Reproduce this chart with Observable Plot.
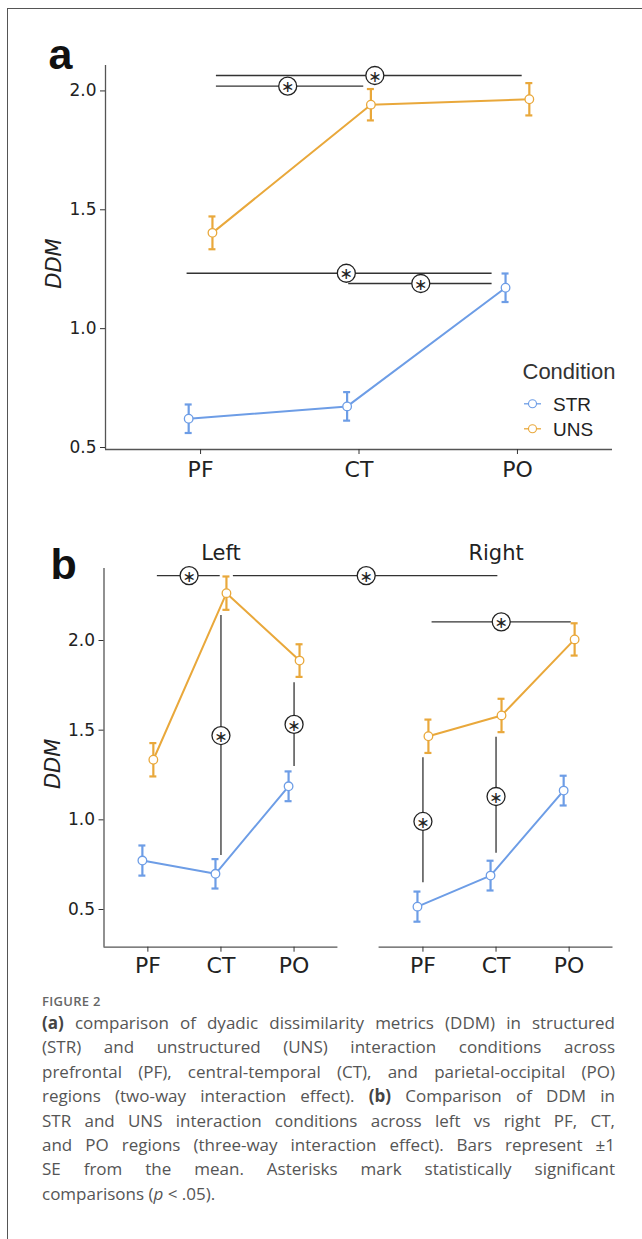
<!DOCTYPE html>
<html><head><meta charset="utf-8">
<script src="https://cdn.jsdelivr.net/npm/d3@7"></script>
<script src="https://cdn.jsdelivr.net/npm/@observablehq/plot@0.6"></script>
<style>
body{margin:0;background:#fff;}
#page{position:relative;width:642px;height:1239px;overflow:hidden;background:#fff;}
#frame{position:absolute;left:7px;top:8px;width:700px;height:1300px;border-left:1px solid #555;border-top:1px solid #555;}
#pa{position:absolute;left:0;top:0;}
#pb{position:absolute;left:0;top:500px;}
#overlay{position:absolute;left:0;top:0;pointer-events:none;}
</style></head>
<body>
<div id="page">
  <div id="frame"></div>
  <div id="pa"></div>
  <div id="pb"></div>
  <svg id="overlay" width="642" height="1239"></svg>
</div>
<script>
// ---------- data ----------
const regions = ["PF", "CT", "PO"];
const conditions = ["STR", "UNS"];
const hemispheres = ["Left", "Right"];
const colors = ["#6d9de6", "#e9a83b"];

// panel a: mean DDM and SE per region
const aSTR = [0.621, 0.673, 1.172];
const aSTRse = [0.060, 0.060, 0.060];
const aUNS = [1.403, 1.942, 1.965];
const aUNSse = [0.069, 0.066, 0.068];

// panel b: mean DDM and SE per hemisphere and region
const bLeftSTR = [0.773, 0.699, 1.187];
const bLeftSTRse = [0.084, 0.082, 0.083];
const bLeftUNS = [1.335, 2.264, 1.888];
const bLeftUNSse = [0.093, 0.093, 0.091];
const bRightSTR = [0.516, 0.689, 1.163];
const bRightSTRse = [0.084, 0.083, 0.083];
const bRightUNS = [1.466, 1.582, 2.006];
const bRightUNSse = [0.093, 0.093, 0.090];

// significance annotations, x in region units (1 = PF, 2 = CT, 3 = PO)
const aSigY = [2.065, 2.020, 1.233, 1.190];
const aSigX1 = [1.10, 1.10, 0.915, 1.935];
const aSigX2 = [3.03, 2.03, 2.84, 2.84];
const aSigStar = [2.10, 1.55, 1.92, 2.39];

const bSigHY = [2.362, 2.362, 2.104];
const bSigHHemi1 = ["Left", "Left", "Right"];
const bSigHX1 = [1.13, 2.17, 1.125];
const bSigHHemi2 = ["Left", "Right", "Right"];
const bSigHX2 = [1.99, 2.025, 3.029];
const bSigHStarHemi = ["Left", "Left", "Right"];
const bSigHStarX = [1.564, 3.987, 2.071];
const bSigHStarY = [2.362, 2.362, 2.104];

const bSigVHemi = ["Left", "Left", "Right", "Right"];
const bSigVX = [2.0, 3.0, 1.0, 2.0];
const bSigVY1 = [2.139, 1.764, 1.346, 1.461];
const bSigVY2 = [0.801, 1.297, 0.649, 0.814];
const bSigVStarY = [1.470, 1.532, 0.991, 1.130];

const caption = [
  [["(a)", "b"], [" comparison of dyadic dissimilarity metrics (DDM) in structured"]],
  [["(STR) and unstructured (UNS) interaction conditions across"]],
  [["prefrontal (PF), central-temporal (CT), and parietal-occipital (PO)"]],
  [["regions (two-way interaction effect). "], ["(b)", "b"], [" Comparison of DDM in"]],
  [["STR and UNS interaction conditions across left vs right PF, CT,"]],
  [["and PO regions (three-way interaction effect). Bars represent \u00b11"]],
  [["SE from the mean. Asterisks mark statistically significant"]],
  [["comparisons ("], ["p", "i"], [" < .05)."]]
];

// ---------- layout helpers ----------
const dodge = 0.075;
const hemiShift = {Left: 0, Right: 3.763};
const colorScale = {domain: conditions, range: colors};
const star = "\u2217";

function seriesMarks(rows) {
  const caps = rows.flatMap(d => [{...d, yc: d.y - d.se}, {...d, yc: d.y + d.se}]);
  return [
    Plot.line(rows, {x: "x", y: "y", z: d => d.condition + (d.hemi || ""), stroke: "condition", strokeWidth: 2}),
    Plot.ruleX(rows, {x: "x", y1: d => d.y - d.se, y2: d => d.y + d.se, stroke: "condition", strokeWidth: 2.2}),
    Plot.ruleY(caps, {x1: "x", x2: "x", y: "yc", stroke: "condition", strokeWidth: 2.2, insetLeft: -3.5, insetRight: -3.5}),
    Plot.dot(rows, {x: "x", y: "y", r: 4.3, fill: "white", stroke: "condition", strokeWidth: 1.3})
  ];
}
function starMarks(stars) {
  return [
    Plot.dot(stars, {x: "x", y: "y", r: 9, fill: "white", stroke: "#222", strokeWidth: 1.3}),
    Plot.text(stars, {x: "x", y: "y", text: () => star, fontSize: 16, fill: "#222", fontFamily: "DejaVu Sans", dy: 1})
  ];
}

// ---------- panel a ----------
const aRows = conditions.flatMap((c, ci) => regions.map((r, i) => ({
  condition: c, region: r, x: i + 1 + (ci ? dodge : -dodge),
  y: [aSTR, aUNS][ci][i], se: [aSTRse, aUNSse][ci][i]
})));
const aBr = aSigY.map((y, i) => ({y, x1: aSigX1[i], x2: aSigX2[i]}));
const aStars = aSigY.map((y, i) => ({y, x: aSigStar[i]}));
const aX = [0.4, 3.6], aY = [0.4916, 2.107];

const plotA = Plot.plot({
  width: 642, height: 500,
  marginLeft: 105, marginRight: 30, marginTop: 65, marginBottom: 51,
  style: {fontFamily: "DejaVu Sans", color: "#333", background: "transparent"},
  x: {domain: aX}, y: {domain: aY}, color: colorScale,
  marks: [
    Plot.ruleX([aX[0]], {stroke: "#555", strokeWidth: 1.3}),
    Plot.ruleY([aY[0]], {stroke: "#555", strokeWidth: 1.3}),
    Plot.axisY({ticks: [0.5, 1, 1.5, 2], tickFormat: d3.format(".1f"), tickSize: 5, tickPadding: 4, fontSize: 17, label: null, fill: "#222"}),
    Plot.axisX({ticks: [1, 2, 3], tickFormat: i => regions[i - 1], tickSize: 5, tickPadding: 7, fontSize: 22, label: null, fill: "#222"}),
    Plot.text(["DDM"], {frameAnchor: "left", textAnchor: "middle", lineAnchor: "middle", dx: -51, dy: 6, rotate: -90, fontSize: 21, fontStyle: "italic", fill: "#222"}),
    Plot.text(["a"], {frameAnchor: "top-left", dx: -57, dy: 3.3, lineAnchor: "bottom", textAnchor: "start", fontSize: 43, fontWeight: "bold", fontFamily: "Liberation Sans", fill: "#111"}),
    Plot.ruleY(aBr, {y: "y", x1: "x1", x2: "x2", stroke: "#333", strokeWidth: 1.3}),
    ...seriesMarks(aRows),
    ...starMarks(aStars)
  ]
});
document.getElementById("pa").appendChild(plotA);

// ---------- panel b ----------
const bData = {Left: [[bLeftSTR, bLeftSTRse], [bLeftUNS, bLeftUNSse]], Right: [[bRightSTR, bRightSTRse], [bRightUNS, bRightUNSse]]};
const bRows = hemispheres.flatMap(h => conditions.flatMap((c, ci) => regions.map((r, i) => ({
  hemi: h, condition: c, region: r, x: i + 1 + hemiShift[h] + (ci ? dodge : -dodge),
  y: bData[h][ci][0][i], se: bData[h][ci][1][i]
}))));
const bBrH = bSigHY.map((y, i) => ({y, x1: bSigHX1[i] + hemiShift[bSigHHemi1[i]], x2: bSigHX2[i] + hemiShift[bSigHHemi2[i]]}));
const bBrV = bSigVX.map((x, i) => ({x: x + hemiShift[bSigVHemi[i]], y1: bSigVY1[i], y2: bSigVY2[i]}));
const bStars = [
  ...bSigHStarX.map((x, i) => ({x: x + hemiShift[bSigHStarHemi[i]], y: bSigHStarY[i]})),
  ...bSigVX.map((x, i) => ({x: x + hemiShift[bSigVHemi[i]], y: bSigVStarY[i]}))
];
const bX = [0.4, 3.6 + hemiShift.Right], bY = [0.2898, 2.4015];
const bTicks = hemispheres.flatMap(h => regions.map((r, i) => i + 1 + hemiShift[h]));
const bAxes = hemispheres.map(h => ({x1: 0.4 + hemiShift[h], x2: 3.6 + hemiShift[h]}));

const plotB = Plot.plot({
  width: 642, height: 500,
  marginLeft: 103.5, marginRight: 29.5, marginTop: 68, marginBottom: 53.3,
  style: {fontFamily: "DejaVu Sans", color: "#333", background: "transparent"},
  x: {domain: bX}, y: {domain: bY}, color: colorScale,
  marks: [
    Plot.ruleX([bX[0]], {stroke: "#555", strokeWidth: 1.3}),
    Plot.ruleY(bAxes, {y: () => bY[0], x1: "x1", x2: "x2", stroke: "#555", strokeWidth: 1.3}),
    Plot.axisY({ticks: [0.5, 1, 1.5, 2], tickFormat: d3.format(".1f"), tickSize: 5, tickPadding: 4, fontSize: 17, label: null, fill: "#222"}),
    Plot.axisX({ticks: bTicks, tickFormat: (d, i) => regions[i % 3], tickSize: 5, tickPadding: 5, fontSize: 22, label: null, fill: "#222"}),
    Plot.text(["DDM"], {frameAnchor: "left", textAnchor: "middle", lineAnchor: "middle", dx: -51, dy: 6, rotate: -90, fontSize: 21, fontStyle: "italic", fill: "#222"}),
    Plot.text(["b"], {frameAnchor: "top-left", dx: -53.5, dy: 10.3, lineAnchor: "bottom", textAnchor: "start", fontSize: 43, fontWeight: "bold", fontFamily: "Liberation Sans", fill: "#111"}),
    Plot.text(hemispheres, {x: h => 2 + hemiShift[h], frameAnchor: "top", lineAnchor: "middle", dy: -15, fontSize: 21, fill: "#222"}),
    Plot.ruleY(bBrH, {y: "y", x1: "x1", x2: "x2", stroke: "#333", strokeWidth: 1.3}),
    Plot.ruleX(bBrV, {x: "x", y1: "y1", y2: "y2", stroke: "#333", strokeWidth: 1.3}),
    ...seriesMarks(bRows),
    ...starMarks(bStars)
  ]
});
document.getElementById("pb").appendChild(plotB);

// ---------- legend & caption (overlay) ----------
const ov = d3.select("#overlay");
const lg = ov.append("g");
lg.append("text").attr("x", 522.5).attr("y", 379.3).attr("font-family", "Liberation Sans").attr("font-size", 22).attr("fill", "#333").text("Condition");
conditions.forEach((c, i) => {
  const y = [403.8, 428.8][i];
  lg.append("line").attr("x1", 524).attr("x2", 541).attr("y1", y).attr("y2", y).attr("stroke", colors[i]).attr("stroke-width", 1.3);
  lg.append("circle").attr("cx", 532.5).attr("cy", y).attr("r", 4).attr("fill", "white").attr("stroke", colors[i]).attr("stroke-width", 1.1);
  lg.append("text").attr("x", 553).attr("y", y + 7.5).attr("font-family", "Liberation Sans").attr("font-size", 19).attr("fill", "#222").text(c);
});

const cg = ov.append("g").attr("font-family", "Open Sans").attr("fill", "#555");
cg.append("text").attr("x", 42).attr("y", 1005.5).attr("font-size", 13).attr("font-weight", 600).attr("fill", "#666").attr("letter-spacing", 0.3).text("FIGURE 2");
const capLeft = 42, capWidth = 573, lineStart = 1029, lineStep = 24.4;
caption.forEach((segs, li) => {
  const t = cg.append("text").attr("x", capLeft).attr("y", lineStart + li * lineStep).attr("font-size", 17).style("white-space", "pre");
  segs.forEach(([s, f]) => {
    const ts = t.append("tspan").text(s);
    if (f === "b") ts.attr("font-weight", "bold").attr("fill", "#444");
    if (f === "i") ts.attr("font-style", "italic");
  });
  if (li < caption.length - 1) {
    const full = segs.map(s => s[0]).join("");
    const spaces = (full.match(/ /g) || []).length;
    const len = t.node().getComputedTextLength();
    const extra = capWidth - len;
    if (extra >= 0) t.style("word-spacing", (extra / spaces) + "px");
    else t.attr("textLength", capWidth).attr("lengthAdjust", "spacing");
  }
});
</script>
</body></html>
